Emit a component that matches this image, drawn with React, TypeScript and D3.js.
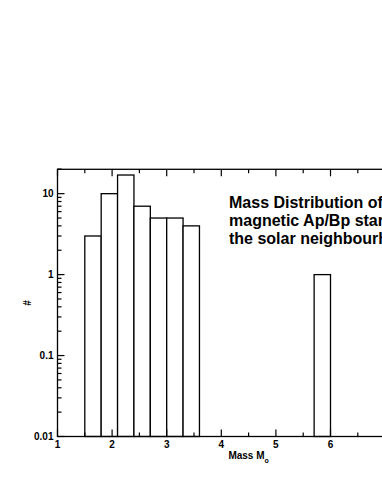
import React, {useEffect, useRef} from 'react';
import * as d3 from 'd3';

// histogram bins (lower edge, bin width 0.3 Msun) and counts
const binStarts = [1.5, 1.8, 2.1, 2.4, 2.7, 3.0, 3.3, 5.7];
const counts = [3, 10, 17, 7, 5, 5, 4, 1];
const binWidth = 0.3;

const xTicks = [1, 2, 3, 4, 5, 6, 7, 8];
const yTicks = [0.01, 0.1, 1, 10];
const yTickLabels = ['0.01', '0.1', '1', '10'];
const titleLines = ['Mass Distribution of', 'magnetic Ap/Bp stars in', 'the solar neighbourhood'];

const App = () => {
    const svgRef = useRef(null);
    const width = 382;
    const height = 494;
    const left = 57.5;
    const right = 439.7;
    const top = 169.3;
    const bottom = 436.5;
    const font = 'Liberation Sans, Arial, Helvetica, sans-serif';

    useEffect(() => {
        const svg = d3.select(svgRef.current);
        svg.selectAll('*').remove();

        const x = d3.scaleLinear().domain([1, 8]).range([left, right]);
        const y = d3.scaleLog().domain([0.01, 20]).range([bottom, top]);

        // bars
        svg.append('g')
            .selectAll('rect')
            .data(binStarts)
            .enter()
            .append('rect')
            .attr('x', d => x(d))
            .attr('y', (d, i) => y(counts[i]))
            .attr('width', x(binWidth + 1) - x(1))
            .attr('height', (d, i) => bottom - y(counts[i]))
            .attr('fill', 'white')
            .attr('stroke', 'black')
            .attr('stroke-width', 1.3);

        // frame
        svg.append('rect')
            .attr('x', left).attr('y', top)
            .attr('width', right - left).attr('height', bottom - top)
            .attr('fill', 'none').attr('stroke', 'black').attr('stroke-width', 1.3);

        // x ticks (major every 1, minor every 0.5), bottom and top, inward
        const xMinor = d3.range(1.5, 8, 1);
        const axisG = svg.append('g').attr('stroke', 'black').attr('stroke-width', 1.2);
        xTicks.forEach(t => {
            axisG.append('line').attr('x1', x(t)).attr('x2', x(t)).attr('y1', bottom).attr('y2', bottom - 7);
            axisG.append('line').attr('x1', x(t)).attr('x2', x(t)).attr('y1', top).attr('y2', top + 7);
        });
        xMinor.forEach(t => {
            axisG.append('line').attr('x1', x(t)).attr('x2', x(t)).attr('y1', bottom).attr('y2', bottom - 4);
            axisG.append('line').attr('x1', x(t)).attr('x2', x(t)).attr('y1', top).attr('y2', top + 4);
        });

        // y ticks (log), left and right, inward
        const yMinor = y.ticks().filter(t => !yTicks.includes(t));
        yMinor.push(20);
        yTicks.forEach(t => {
            axisG.append('line').attr('x1', left).attr('x2', left + 7).attr('y1', y(t)).attr('y2', y(t));
            axisG.append('line').attr('x1', right).attr('x2', right - 7).attr('y1', y(t)).attr('y2', y(t));
        });
        yMinor.forEach(t => {
            axisG.append('line').attr('x1', left).attr('x2', left + 4).attr('y1', y(t)).attr('y2', y(t));
            axisG.append('line').attr('x1', right).attr('x2', right - 4).attr('y1', y(t)).attr('y2', y(t));
        });

        // tick labels
        svg.append('g')
            .selectAll('text')
            .data(xTicks)
            .enter()
            .append('text')
            .attr('x', d => x(d))
            .attr('y', bottom + 11.5)
            .attr('text-anchor', 'middle')
            .attr('font-family', font)
            .attr('font-weight', 'bold')
            .attr('font-size', 10)
            .text(d => d);

        svg.append('g')
            .selectAll('text')
            .data(yTicks)
            .enter()
            .append('text')
            .attr('x', left - 4)
            .attr('y', d => y(d) + 3.5)
            .attr('text-anchor', 'end')
            .attr('font-family', font)
            .attr('font-weight', 'bold')
            .attr('font-size', 10)
            .text((d, i) => yTickLabels[i]);

        // axis titles
        const xl = svg.append('text')
            .attr('x', x(4.5))
            .attr('y', 458.5)
            .attr('text-anchor', 'middle')
            .attr('font-family', font)
            .attr('font-weight', 'bold')
            .attr('font-size', 10);
        xl.append('tspan').text('Mass M');
        xl.append('tspan').attr('font-size', 7).attr('dy', 4).text('o');

        svg.append('text')
            .attr('transform', `translate(31, ${(top + bottom) / 2}) rotate(-90)`)
            .attr('text-anchor', 'middle')
            .attr('font-family', font)
            .attr('font-weight', 'bold')
            .attr('font-size', 10)
            .text('#');

        // title
        svg.append('g')
            .selectAll('text')
            .data(titleLines)
            .enter()
            .append('text')
            .attr('x', 229)
            .attr('y', (d, i) => 208 + i * 18)
            .attr('font-family', font)
            .attr('font-weight', 'bold')
            .attr('font-size', 16)
            .text(d => d);
    }, []);

    return <svg ref={svgRef} width={width} height={height}
                style={{position: 'fixed', left: 0, top: 0, background: 'white'}}></svg>;
};

export default App;
